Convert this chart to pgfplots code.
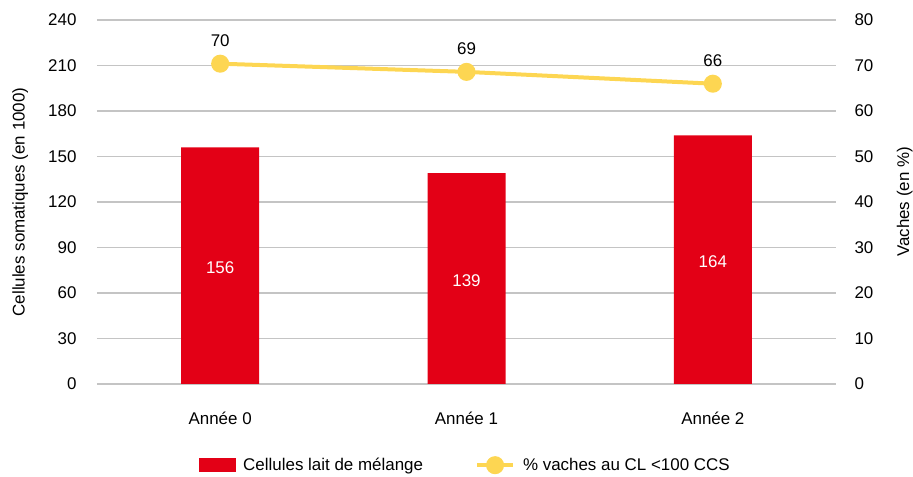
\documentclass[border=0pt]{standalone}
\usepackage{fontspec}
\setmainfont{Liberation Sans}
\usepackage{pgfplots}
\pgfplotsset{compat=1.18}
\definecolor{barred}{HTML}{E30016}
\definecolor{lineyel}{HTML}{FDD652}
\definecolor{gridgray}{HTML}{C4C4C4}
\begin{document}
\begin{tikzpicture}
\pgfplotsset{
  common/.style={
    scale only axis, width=739bp, height=364bp,
    xmin=-0.5, xmax=2.5,
    font=\fontsize{17}{20}\selectfont,
    /pgf/number format/assume math mode=true,
    axis line style={draw=none},
    major tick style={draw=none},
  }
}
\begin{axis}[common,
  ymin=0, ymax=240, ytick={0,30,...,240},
  xtick={0,1,2}, xticklabels={Année 0, Année 1, Année 2},
  ymajorgrids, grid style={gridgray, line width=1.2bp},
  axis y line*=left, axis x line*=bottom,
  yticklabel style={xshift=-17bp},
  xticklabel style={yshift=-20bp},
  ylabel={Cellules somatiques (en 1000)},
  ylabel style={at={(axis description cs:-0.104,0.5)}, anchor=center},
  ybar, bar width=78bp, bar shift=0pt,
]
\addplot[fill=barred, draw=none,
  nodes near coords,
  visualization depends on={rawy \as \rawy},
  every node near coord/.append style={white, anchor=center, yshift={-\rawy*0.76117pt-2pt}},
] coordinates {(0,156) (1,139) (2,164)};
\coordinate (bl) at (rel axis cs:0,0);
\coordinate (tr) at (rel axis cs:1,1);
\end{axis}
\begin{axis}[common,
  ymin=0, ymax=80, ytick={0,10,...,80},
  axis y line*=right, axis x line=none,
  yticklabel style={xshift=15bp},
  ylabel={Vaches (en \%)},
  ylabel style={at={(axis description cs:1.093,0.5)}, anchor=center},
  legend style={at={(axis description cs:0.497,0)}, anchor=north, yshift=-70bp,
    draw=none, fill=none, legend columns=2,
    nodes={inner xsep=0bp},
    /tikz/every odd column/.append style={column sep=8bp},
    /tikz/every even column/.append style={column sep=52bp},
    font=\fontsize{17}{20}\selectfont},
  legend cell align=left,
]
\addlegendimage{legend image code/.code={\fill[barred] (0bp,-6.5bp) rectangle (36bp,6.5bp);}}
\addlegendentry{Cellules lait de mélange}
\addplot[lineyel, line width=4bp, mark=*, mark size=7bp,
  mark options={fill=lineyel, draw=none},
  point meta=explicit symbolic,
  nodes near coords={\pgfplotspointmeta},
  every node near coord/.append style={black, anchor=south, yshift=12bp},
  legend image code/.code={\draw[lineyel, line width=4bp] (0bp,0bp) -- (36bp,0bp);
     \fill[lineyel] (18bp,0bp) circle (7bp);},
] coordinates {(0,70.4) [70] (1,68.6) [69] (2,66.0) [66]};
\addlegendentry{\% vaches au CL <100 CCS}
\end{axis}
\pgfresetboundingbox
\useasboundingbox ([xshift=-97bp,yshift=-93bp]bl) rectangle ([xshift=77bp,yshift=20bp]tr);
\end{tikzpicture}
\end{document}
